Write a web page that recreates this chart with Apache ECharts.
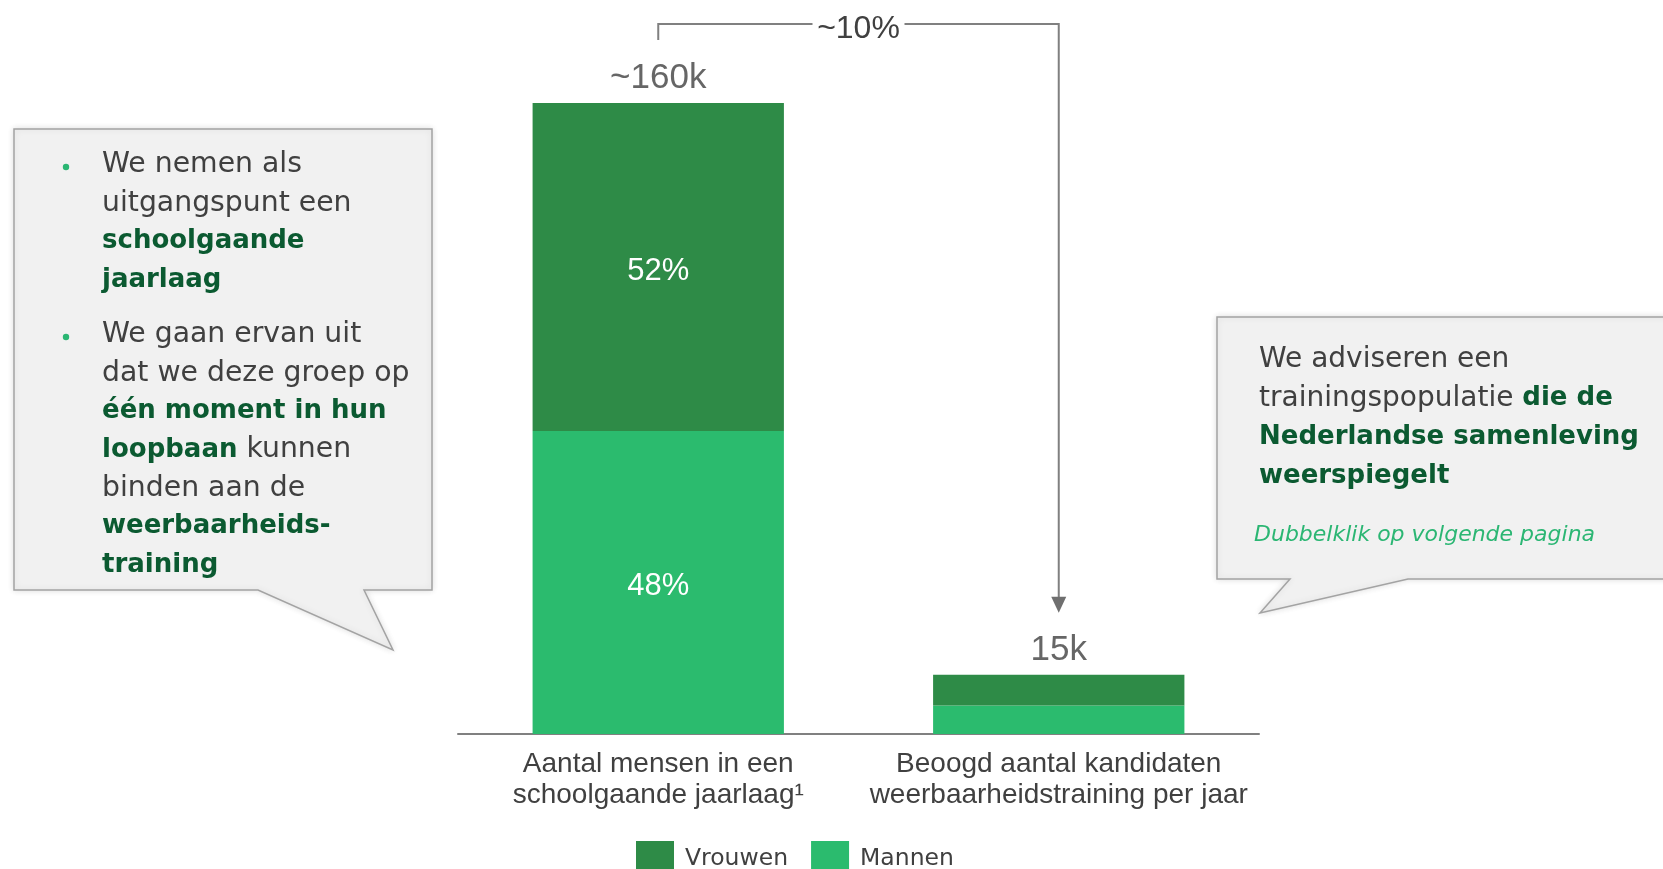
<!DOCTYPE html>
<html>
<head>
<meta charset="utf-8">
<script src="https://cdn.jsdelivr.net/npm/echarts@6/dist/echarts.min.js"></script>
<style>
html,body{margin:0;padding:0;background:#fff;}
#chart{width:1663px;height:869px;}
</style>
</head>
<body>
<div id="chart"></div>
<script>
// ---- data ----
const categories = ['Aantal mensen in een\nschoolgaande jaarlaag\u00b9', 'Beoogd aantal kandidaten\nweerbaarheidstraining per jaar'];
const seriesNames = ['Vrouwen', 'Mannen'];
const vrouwen = [83.2, 7.8];
const mannen = [76.8, 7.2];
const totals = [160, 15];
const totalLabels = ['~160k', '15k'];
const pctVrouwen = ['52%', ''];
const pctMannen = ['48%', ''];
const changeLabel = '~10%';

const leftLines = [
  ['We nemen als', 'uitgangspunt een', '{b|schoolgaande}', '{b|jaarlaag}'],
  ['We gaan ervan uit', 'dat we deze groep op', '{b|één moment in hun}', '{b|loopbaan} kunnen', 'binden aan de', '{b|weerbaarheids-}', '{b|training}']
];
const rightLines = ['We adviseren een', 'trainingspopulatie {b|die de}', '{b|Nederlandse samenleving}', '{b|weerspiegelt}'];
const rightNote = 'Dubbelklik op volgende pagina';

// ---- style ----
const DARK = '#2e8b47';
const LIGHT = '#2bbb6e';
const GREY_TXT = '#404040';
const BOLD_GREEN = '#0b5a31';
const LINE = '#808080';
const CHART_FONT = '"Liberation Sans", Arial, sans-serif';
const BOX_FONT = '"DejaVu Sans", Tahoma, sans-serif';

const chart = echarts.init(document.getElementById('chart'), null, {renderer: 'canvas'});

const option = {
  animation: false,
  backgroundColor: '#ffffff',
  grid: {left: 458, right: 404, top: 103, bottom: 135, containLabel: false},
  legend: {
    data: seriesNames,
    left: 636, top: 841, padding: 0,
    itemWidth: 38, itemHeight: 36, itemGap: 23,
    icon: 'rect',
    textStyle: {fontFamily: BOX_FONT, fontSize: 23.5, color: GREY_TXT, padding: [0, 0, 0, 6]}
  },
  xAxis: {
    type: 'category',
    data: categories,
    axisLine: {show: true, lineStyle: {color: LINE, width: 2}},
    axisTick: {show: false},
    axisLabel: {
      interval: 0, margin: 15,
      fontFamily: CHART_FONT, fontSize: 28, lineHeight: 31, color: GREY_TXT
    }
  },
  yAxis: {type: 'value', min: 0, max: 160, show: false},
  series: [
    {
      name: 'Mannen', type: 'bar', stack: 'total', barWidth: '62.75%',
      data: mannen, itemStyle: {color: LIGHT},
      label: {show: true, position: 'inside', offset: [0, 4], color: '#fff', fontFamily: CHART_FONT, fontSize: 31,
        formatter: p => pctMannen[p.dataIndex]}
    },
    {
      name: 'Vrouwen', type: 'bar', stack: 'total', barWidth: '62.75%',
      data: vrouwen, itemStyle: {color: DARK},
      label: {show: true, position: 'inside', offset: [0, 4], color: '#fff', fontFamily: CHART_FONT, fontSize: 31,
        formatter: p => pctVrouwen[p.dataIndex]}
    },
    {
      name: 'totaal', type: 'scatter', symbolSize: 0, silent: true,
      data: totals.map((v, i) => [i, v]),
      label: {show: true, position: 'top', distance: 7, color: GREY_TXT, fontFamily: CHART_FONT, fontSize: 35,
        formatter: p => totalLabels[p.dataIndex]}
    }
  ]
};
chart.setOption(option);

// ---- annotations positioned from the axes ----
const p0 = chart.convertToPixel({gridIndex: 0}, [0, totals[0]]);
const p1 = chart.convertToPixel({gridIndex: 0}, [1, totals[1]]);
const yBr = 24;
const midX = (p0[0] + p1[0]) / 2;
const gapHalf = 46;
const tipY = p1[1] - 62;
const g = [];
const lineStyle = {stroke: LINE, lineWidth: 2};
g.push({type: 'polyline', z: 10, shape: {points: [[p0[0], 40], [p0[0], yBr], [midX - gapHalf, yBr]]}, style: Object.assign({fill: null}, lineStyle)});
g.push({type: 'polyline', z: 10, shape: {points: [[midX + gapHalf, yBr], [p1[0], yBr], [p1[0], tipY - 14]]}, style: Object.assign({fill: null}, lineStyle)});
g.push({type: 'polygon', z: 10, shape: {points: [[p1[0] - 7.5, tipY - 16], [p1[0] + 7.5, tipY - 16], [p1[0], tipY]]}, style: {fill: '#6f6f6f'}});
g.push({type: 'text', z: 10, style: {text: changeLabel, x: midX, y: yBr + 5, align: 'center', verticalAlign: 'middle', font: '32px ' + CHART_FONT, fill: GREY_TXT}});

// callout boxes
const boxStyle = {fill: '#f1f1f1', stroke: '#a3a3a3', lineWidth: 1.5, shadowBlur: 6, shadowColor: 'rgba(0,0,0,0.12)'};
g.push({type: 'polygon', z: 1, shape: {points: [[14, 129], [432, 129], [432, 590], [364, 590], [393, 650], [258, 590], [14, 590]]}, style: boxStyle});
g.push({type: 'polygon', z: 1, shape: {points: [[1217, 317], [1680, 317], [1680, 579], [1408, 579], [1260, 613], [1290, 579], [1217, 579]]}, style: boxStyle});

const rich = {b: {fontFamily: BOX_FONT, fontSize: 26, fontWeight: 'bold', fill: BOLD_GREEN}};
const step = 38.3;
const leftStarts = [165, 335];
leftLines.forEach((grp, gi) => {
  g.push({type: 'circle', z: 5, shape: {cx: 66, cy: leftStarts[gi] + 2, r: 3.2}, style: {fill: '#2bb673'}});
  grp.forEach((ln, li) => {
    g.push({type: 'text', z: 5, style: {text: ln, x: 102, y: leftStarts[gi] + li * step, verticalAlign: 'middle',
      font: '28.3px ' + BOX_FONT, fill: GREY_TXT, rich: rich}});
  });
});
rightLines.forEach((ln, li) => {
  g.push({type: 'text', z: 5, style: {text: ln, x: 1259, y: 360 + li * 38.7, verticalAlign: 'middle',
    font: '28px ' + BOX_FONT, fill: GREY_TXT, rich: rich}});
});
g.push({type: 'text', z: 5, style: {text: rightNote, x: 1254, y: 535, verticalAlign: 'middle',
  font: 'italic 22px ' + BOX_FONT, fill: '#2bb673'}});

chart.setOption({graphic: {elements: g}});
</script>
</body>
</html>
